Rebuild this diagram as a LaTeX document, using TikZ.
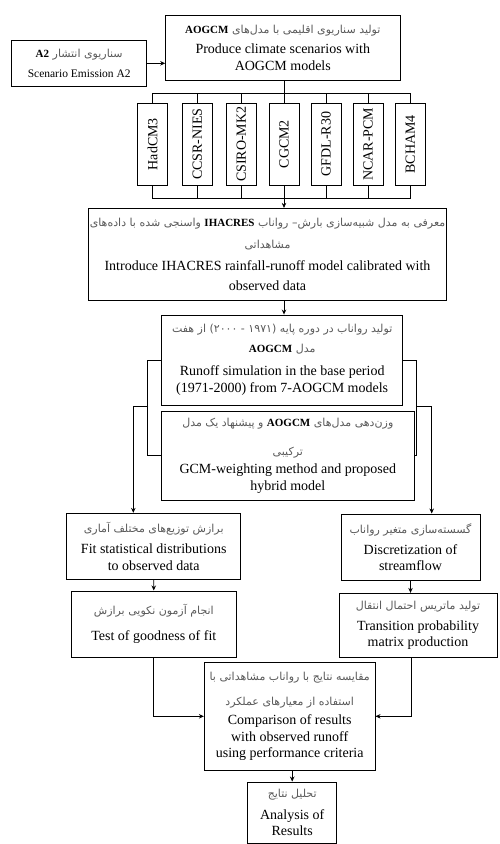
\documentclass[tikz,border=0pt]{standalone}
\usepackage{fontspec}
\setmainfont{Liberation Serif}
\newfontfamily\fafont[Script=Arabic]{DejaVu Sans}
\TeXXeTstate=1
\usetikzlibrary{arrows.meta}
\newcommand{\fa}[1]{{\fafont\fontsize{11}{13}\selectfont\color{black!65}\beginR #1\endR}}
\newcommand{\la}[1]{\beginL{\normalfont\fontsize{11}{13}\selectfont\bfseries\color{black}#1}\endL}

\begin{document}
\begin{tikzpicture}[x=1pt,y=-1pt,font=\fontsize{14}{16.5}\selectfont]
    \useasboundingbox (0,0) rectangle (499,844);
    \begin{scope}[every node/.style={draw,line width=0.9pt,align=center,inner sep=1pt}]
        \node[minimum width=135,minimum height=46.7] (sc) at (79.2,63.3)
            {\fa{سناریوی انتشار \la{A2}}\\[3.5pt]{\fontsize{11.5}{13}\selectfont Scenario Emission A2}};
        \node[minimum width=234.3,minimum height=65.7] (ao) at (282.8,47.8)
            {\fa{تولید سناریوی اقلیمی با مدل‌های \la{AOGCM}}\\[3.5pt]Produce climate scenarios with\\AOGCM models};
        \node[rotate=90,minimum width=81.7,minimum height=30] (g1) at (152.7,144.2) {HadCM3};
        \node[rotate=90,minimum width=81.7,minimum height=30] (g2) at (197.3,144.2) {CCSR-NIES};
        \node[rotate=90,minimum width=81.7,minimum height=30] (g3) at (241.3,144.2) {CSIRO-MK2};
        \node[rotate=90,minimum width=81.7,minimum height=30] (g4) at (284,144.2) {CGCM2};
        \node[rotate=90,minimum width=81.7,minimum height=30] (g5) at (326,144.2) {GFDL-R30};
        \node[rotate=90,minimum width=81.7,minimum height=30] (g6) at (368,144.2) {NCAR-PCM};
        \node[rotate=90,minimum width=81.7,minimum height=30] (g7) at (410.3,144.2) {BCHAM4};
        \node[minimum width=341,minimum height=91.7] (ih) at (267.5,254.2)
            {\fa{معرفی به مدل شبیه‌سازی بارش– رواناب \la{IHACRES} واسنجی شده با داده‌های}\\[5pt]
             \fa{مشاهداتی}\\[6pt]Introduce IHACRES rainfall-runoff model calibrated with\\[3pt]observed data};
        \node[minimum width=241,minimum height=90] (ru) at (282.2,360)
            {\fa{تولید رواناب در دوره پایه (۱۹۷۱ - ۲۰۰۰) از هفت}\\[3pt]
             \fa{مدل \la{AOGCM}}\\[7pt]Runoff simulation in the base period\\(1971-2000) from 7-AOGCM models};
        \node[minimum width=252.3,minimum height=88.3] (we) at (287.8,455.8)
            {\fa{وزن‌دهی مدل‌های \la{AOGCM} و پیشنهاد یک مدل}\\[12pt]
             \fa{ترکیبی}\\[2pt]GCM-weighting method and proposed\\hybrid model};
        \node[minimum width=174,minimum height=66] (fi) at (153.7,546.3)
            {\fa{برازش توزیع‌های مختلف آماری}\\[4.5pt]Fit statistical distributions\\to observed data};
        \node[minimum width=139,minimum height=66.7] (di) at (410.5,547.3)
            {\fa{گسسته‌سازی متغیر رواناب}\\[4.5pt]Discretization of\\streamflow};
        \node[minimum width=164.3,minimum height=66.7] (te) at (153.8,624.3)
            {\fa{انجام آزمون نکویی برازش}\\[9.5pt]Test of goodness of fit};
        \node[minimum width=158,minimum height=64.4] (tr) at (418,625.5)
            {\fa{تولید ماتریس احتمال انتقال}\\[4pt]Transition probability\\matrix production};
        \node[minimum width=170.7,minimum height=107.3] (co) at (289.7,716.3)
            {\fa{مقایسه نتایج با رواناب مشاهداتی با}\\[9pt]
             \fa{استفاده از معیارهای عملکرد}\\[2.5pt]Comparison of results\\with observed runoff\\using performance criteria};
        \node[minimum width=89,minimum height=61] (an) at (292.2,812.5)
            {\fa{تحلیل نتایج}\\[5.5pt]Analysis of\\Results};
    \end{scope}
    \begin{scope}[line width=0.9pt,>={Stealth[length=5pt,width=4.5pt]}]
        \coordinate (bt) at (284,93.3);
        \coordinate (bb) at (284,198.3);
        \coordinate (lb) at (148.3,406.7);
        \coordinate (rb) at (416.3,406.7);
        \draw[->] (sc) -- (ao.west |- sc);
        \draw (ao.south -| bt) -- (bt);
        \draw (g1.east) |- (bt) -| (g7.east);
        \foreach \g in {g2,g3,g4,g5,g6} \draw (\g.east) -- (\g.east |- bt);
        \draw (g1.west) |- (bb) -| (g7.west);
        \foreach \g in {g2,g3,g4,g5,g6} \draw (\g.west) -- (\g.west |- bb);
        \draw[->] (bb) -- (bb |- ih.north);
        \draw[->] (ih.south -| bb) -- (ru.north -| bb);
        \draw (ru.west) -- ++(-13.4,0) |- (we.west);
        \draw (ru.east) -- ++(13.6,0) |- (we.east);
        \draw[->] (lb) -| ([xshift=-20.4pt]fi.north);
        \draw[->] (rb) -| ([xshift=21.2pt]di.north);
        \draw[->] (fi) -- (te);
        \draw[->] (di.south) -- (di.south |- tr.north);
        \draw[->] (te.south) |- (co.west);
        \draw[->] ([xshift=-7pt]tr.south) |- (co.east);
        \draw[->] (an.north |- co.south) -- (an.north);
    \end{scope}
\end{tikzpicture}
\end{document}
